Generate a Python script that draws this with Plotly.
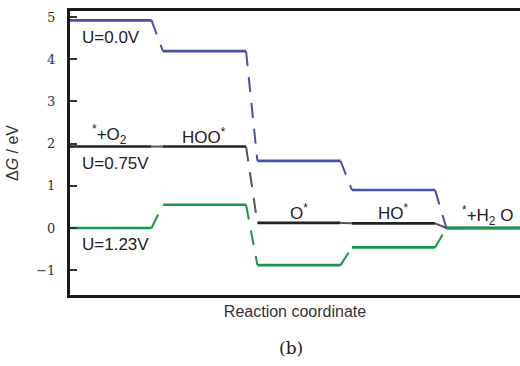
import plotly.graph_objects as go

states = ["*+O2", "HOO*", "O*", "HO*", "*+H2O"]
state_labels = ["<sup>*</sup>+O<sub>2</sub>", "HOO<sup>*</sup>", "O<sup>*</sup>", "HO<sup>*</sup>", "<sup>*</sup>+H<sub>2</sub> O"]
g_u000 = [4.92, 4.19, 1.59, 0.90, 0.0]
g_u075 = [1.93, 1.93, 0.12, 0.11, 0.0]
g_u123 = [0.0, 0.55, -0.88, -0.46, 0.0]
series_names = ["U=0.0V", "U=0.75V", "U=1.23V"]
series_colors = ["#4850a8", "#222222", "#17974a"]

HALF = 0.44
fig = go.Figure()

for vals, name, col in zip([g_u000, g_u075, g_u123], series_names, series_colors):
    lx, ly = [], []
    for i, v in enumerate(vals):
        lx += [i - HALF, i + HALF, None]
        ly += [v, v, None]
    fig.add_trace(go.Scatter(x=lx, y=ly, mode="lines", line=dict(color=col, width=2.6),
                             showlegend=False, hoverinfo="skip"))
    cx, cy = [], []
    for i in range(len(vals) - 1):
        cx += [i + HALF, i + 1 - HALF, None]
        cy += [vals[i], vals[i + 1], None]
    fig.add_trace(go.Scatter(x=cx, y=cy, mode="lines",
                             line=dict(color=col if col != "#222222" else "#555555", width=2,
                                       dash="15px,11px"),
                             showlegend=False, hoverinfo="skip"))

ann = []
for vals, name, shift in zip([g_u000, g_u075, g_u123], series_names, [-6, -5, -5]):
    ann.append(dict(x=-0.32, y=vals[0], xref="x", yref="y", text=name, showarrow=False,
                    xanchor="left", yanchor="top", yshift=shift,
                    font=dict(family="Liberation Sans, Arial", size=17, color="#222")))
for i, lab in enumerate(state_labels):
    ann.append(dict(x=i, y=g_u075[i], xref="x", yref="y", text=lab, showarrow=False,
                    xanchor="center", yanchor="bottom", yshift=-2,
                    font=dict(family="Liberation Sans, Arial", size=17, color="#222")))
ann.append(dict(x=0.49, y=-0.23, xref="paper", yref="paper", text="(b)", showarrow=False,
                font=dict(family="DejaVu Serif, Liberation Serif", size=17, color="#222")))

fig.update_layout(
    width=520, height=366,
    margin=dict(l=70, r=0, t=11, b=71),
    plot_bgcolor="white", paper_bgcolor="white",
    annotations=ann,
    xaxis=dict(range=[-0.423, 4.339], showticklabels=False, ticks="", showgrid=False,
               zeroline=False, showline=True, linecolor="#1a1a1a", linewidth=3, mirror=True,
               title=dict(text="Reaction coordinate", standoff=9,
                          font=dict(family="Liberation Sans, Arial", size=16, color="#333"))),
    yaxis=dict(range=[-1.588, 5.142], tickvals=[-1, 0, 1, 2, 3, 4, 5], ticks="inside",
               ticklen=7, tickwidth=2, tickcolor="#333", showgrid=False, zeroline=False,
               showline=True, linecolor="#1a1a1a", linewidth=3,
               tickfont=dict(family="DejaVu Serif, Liberation Serif", size=13, color="#333"),
               ticklabelstandoff=9,
               title=dict(text="Δ<i>G</i> / eV", standoff=14,
                          font=dict(family="Liberation Sans, Arial", size=16, color="#333"))),
)

fig.write_html("out.html", post_script="document.body.style.margin='0';",
               config={"displayModeBar": False})
